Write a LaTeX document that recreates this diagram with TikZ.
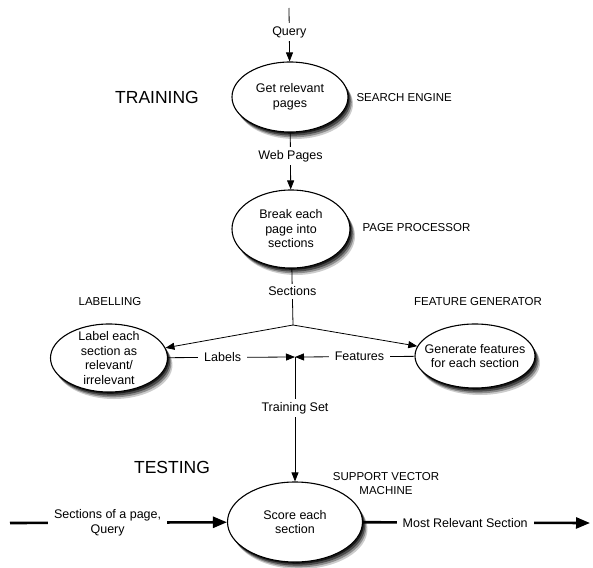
\documentclass[tikz,border=0pt]{standalone}
\usepackage{fontspec}
\setmainfont{Liberation Sans}
\usetikzlibrary{shapes.geometric,arrows.meta}

\tikzset{
  stage/.style={ellipse, draw, line width=1.1pt, fill=white, inner sep=-14pt, align=center,
    font=\fontsize{12.5}{14.5}\selectfont},
  shade/.style={draw=none, inner sep=0pt},
  lbl/.style={fill=white, inner xsep=6pt, inner ysep=3pt, align=center,
    font=\fontsize{12.5}{14.5}\selectfont},
  role/.style={align=center, font=\fontsize{11.5}{14}\selectfont},
  phase/.style={font=\fontsize{17.5}{20}\selectfont},
  flow/.style={line width=0.8pt, -{Triangle[length=9pt,width=7pt]}},
  bigflow/.style={line width=2.6pt, -{Triangle[length=14pt,width=11pt]}}
}

\begin{document}
\begin{tikzpicture}[x=1pt,y=-1pt]
    \useasboundingbox (0,0) rectangle (593,567);

    % Soft shadows under the stages: centre x, centre y, half width, half height
    \foreach \sx/\sy/\rx/\ry in {290/97/58/35, 291/229/59/39, 109/358/58.5/34, 475/356/60/32, 295/522/67.5/40} {
      \fill[black!20] (\sx+5,\sy+7) ellipse (\rx pt and \ry pt);
      \fill[black!45] (\sx+3.8,\sy+5.3) ellipse (\rx pt and \ry pt);
      \fill[black!70] (\sx+2.6,\sy+3.6) ellipse (\rx pt and \ry pt);
      \fill[black!90] (\sx+1.3,\sy+1.8) ellipse (\rx pt and \ry pt);
    }

    % Processing stages
    \node[stage, minimum width=116pt, minimum height=70pt] (get) at (290,97) {Get relevant\\pages};
    \node[stage, minimum width=118pt, minimum height=78pt] (brk) at (291,229) {Break each\\page into\\sections};
    \node[stage, minimum width=117pt, minimum height=68pt] (lab) at (109,358) {Label each\\section as\\relevant/\\irrelevant};
    \node[stage, minimum width=120pt, minimum height=64pt] (feat) at (475,356) {Generate features\\for each section};
    \node[stage, minimum width=135pt, minimum height=80pt] (svm) at (295,522) {Score each\\section};

    % Names of the components
    \node[role, anchor=west] (searchname) at (353,98) {SEARCH ENGINE};
    \node[role, anchor=west] (pagename) at (359,228) {PAGE PROCESSOR};
    \node[role] (labname) at (110,302) {LABELLING};
    \node[role] (featname) at (478,302) {FEATURE GENERATOR};
    \node[role] (svmname) at (386,484) {SUPPORT VECTOR\\MACHINE};

    % Phases
    \node[phase] (training) at (157,97) {TRAINING};
    \node[phase] (testing) at (172,467) {TESTING};

    % Free ends and junctions
    \coordinate (qtop) at (289,8);
    \coordinate (split) at (293,325);
    \coordinate (join) at (295,357);
    \coordinate (inL) at (10,523);
    \coordinate (outR) at (590,523);

    % Training flow
    \draw[flow] (qtop) -- node[lbl, pos=.45] {Query} (get);
    \draw[flow] (get) -- node[lbl, pos=.41] {Web Pages} (brk);
    \draw[line width=0.8pt] (brk) -- node[lbl, pos=.4] {Sections} (split);
    \draw[flow] (split) -- (lab);
    \draw[flow] (split) -- (feat);
    \draw[flow] (lab) -- node[lbl, pos=.43] {Labels} (join);
    \draw[flow] (feat) -- node[lbl, pos=.46] {Features} (join);
    \draw[flow] (join) -- node[lbl, pos=.41] {Training Set} (svm);

    % Testing flow
    \draw[bigflow] (inL) -- node[lbl, pos=.45] {Sections of a page,\\Query} (svm);
    \draw[bigflow] (svm) -- node[lbl, pos=.45] {Most Relevant Section} (outR);
\end{tikzpicture}
\end{document}
